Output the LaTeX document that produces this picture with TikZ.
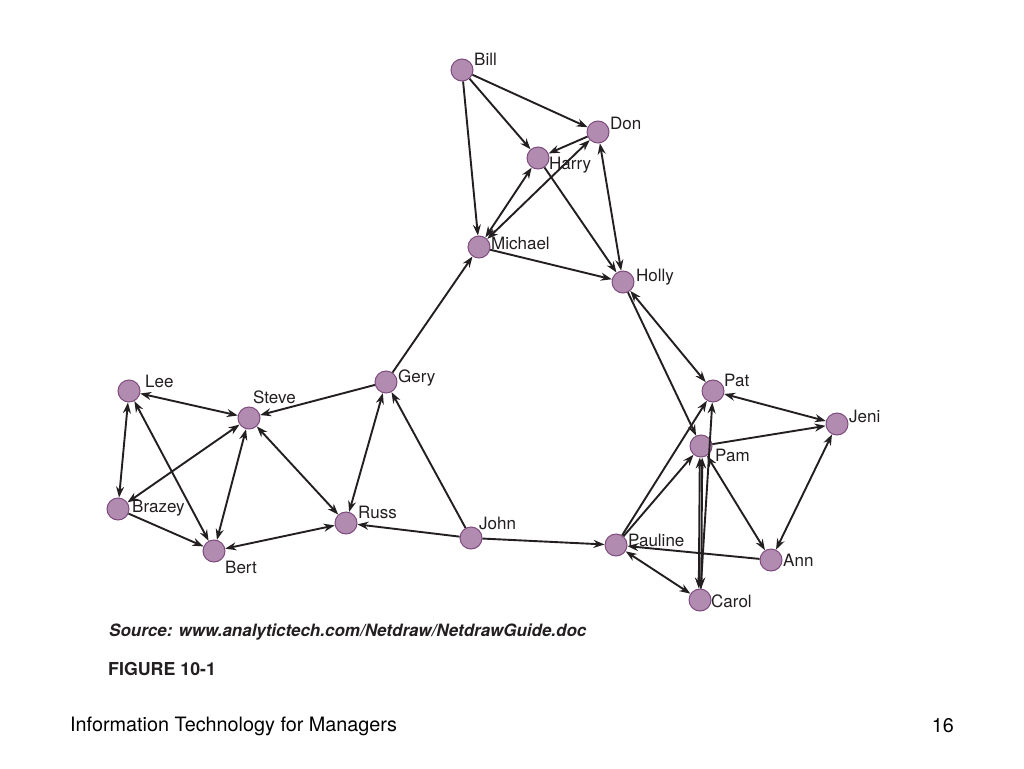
\documentclass[tikz,border=0pt]{standalone}
\usepackage{fontspec}
\setmainfont{TeX Gyre Heros}
\usetikzlibrary{arrows.meta}
\definecolor{nodefill}{RGB}{178,140,176}
\definecolor{nodeline}{RGB}{125,75,125}
\definecolor{edgecol}{RGB}{35,31,32}
\tikzset{
  actor/.style={circle,fill=nodefill,draw=nodeline,line width=1pt,minimum size=22pt,inner sep=0pt},
  lab/.style={font=\fontsize{17}{17}\selectfont,text=edgecol,inner sep=0pt},
  tie/.style={draw=edgecol,line width=1.9pt,-{Stealth[length=11pt,width=8pt]}},
  mutual/.style={draw=edgecol,line width=1.9pt,{Stealth[length=11pt,width=8pt]}-{Stealth[length=11pt,width=8pt]}}
}
\begin{document}
\begin{tikzpicture}[x=1pt,y=-1pt]
\useasboundingbox (0,0) rectangle (1024,768);
\fill[white] (0,0) rectangle (1024,768);
% nodes
\node[actor] (bill) at (462,70) {};
\node[actor] (don) at (598,132) {};
\node[actor] (harry) at (538,158) {};
\node[actor] (michael) at (479,247) {};
\node[actor] (holly) at (623,282) {};
\node[actor] (pat) at (713,391) {};
\node[actor] (jeni) at (837,424) {};
\node[actor] (pam) at (701,446) {};
\node[actor] (pauline) at (616,545) {};
\node[actor] (ann) at (771,560) {};
\node[actor] (carol) at (700,600) {};
\node[actor] (gery) at (386,382) {};
\node[actor] (steve) at (249,418) {};
\node[actor] (lee) at (129,391) {};
\node[actor] (brazey) at (118,509) {};
\node[actor] (bert) at (214,551) {};
\node[actor] (russ) at (346,523) {};
\node[actor] (john) at (471,538) {};
% labels
\node[lab,anchor=west] (lbill) at (474,59) {Bill};
\node[lab,anchor=west] (ldon) at (610,123) {Don};
\node[lab,anchor=west] (lharry) at (549,165) {Harry};
\node[lab,anchor=west] (lmichael) at (491,243) {Michael};
\node[lab,anchor=west] (lholly) at (636,277) {Holly};
\node[lab,anchor=west] (lpat) at (724,380) {Pat};
\node[lab,anchor=west] (ljeni) at (849,416) {Jeni};
\node[lab,anchor=west] (lpam) at (715,455) {Pam};
\node[lab,anchor=west] (lpauline) at (628,540) {Pauline};
\node[lab,anchor=west] (lann) at (783,560) {Ann};
\node[lab,anchor=west] (lcarol) at (711,601) {Carol};
\node[lab,anchor=west] (lgery) at (398,378) {Gery};
\node[lab,anchor=west] (lsteve) at (253,397) {Steve};
\node[lab,anchor=west] (llee) at (145,381) {Lee};
\node[lab,anchor=west] (lbrazey) at (132,508) {Brazey};
\node[lab,anchor=west] (lbert) at (225,567) {Bert};
\node[lab,anchor=west] (lruss) at (358,512) {Russ};
\node[lab,anchor=west] (ljohn) at (479,523) {John};
% edges
\draw[tie] (bill) -- (don);
\draw[tie] (bill) -- (harry);
\draw[tie] (bill) -- (michael);
\draw[tie] (don) -- (harry);
\draw[mutual] (harry) -- (michael);
\draw[mutual] (don) -- (michael);
\draw[tie] (harry) -- (holly);
\draw[mutual] (don) -- (holly);
\draw[tie] (michael) -- (holly);
\draw[tie] (gery) -- (michael);
\draw[mutual] (holly) -- (pat);
\draw[tie] (holly) -- (pam);
\draw[mutual] (pat) -- (jeni);
\draw[tie] (pam) -- (jeni);
\draw[mutual] (pam) -- (ann);
\draw[mutual] (jeni) -- (ann);
\draw[tie] (ann) -- (pauline);
\draw[tie] (pauline) -- (pat);
\draw[tie] (pauline) -- (pam);
\draw[mutual] (pauline) -- (carol);
\draw[mutual] ([xshift=-1.2pt]pam.south) -- ([xshift=-1.2pt]carol.north);
\draw[mutual] ([xshift=1.2pt]pam.south) -- ([xshift=1.2pt]carol.north);
\draw[tie] (carol) -- (pat);
\draw[tie] (john) -- (pauline);
\draw[tie] (john) -- (russ);
\draw[tie] (john) -- (gery);
\draw[tie] (gery) -- (steve);
\draw[mutual] (gery) -- (russ);
\draw[mutual] (steve) -- (lee);
\draw[mutual] (steve) -- (russ);
\draw[mutual] (steve) -- (brazey);
\draw[mutual] (steve) -- (bert);
\draw[mutual] (lee) -- (brazey);
\draw[mutual] (lee) -- (bert);
\draw[tie] (brazey) -- (bert);
\draw[mutual] (russ) -- (bert);
% captions
\node[anchor=west,inner sep=0pt,text=edgecol,font=\fontsize{17}{17}\selectfont\bfseries\itshape] (src) at (109,632) {Source: www.analytictech.com/Netdraw/NetdrawGuide.doc};
\node[anchor=west,inner sep=0pt,text=edgecol,font=\fontsize{17.8}{17.8}\selectfont\bfseries] (fig) at (108,669) {FIGURE 10-1};
\node[anchor=west,inner sep=0pt,font=\fontsize{19.8}{19.8}\selectfont] (footer) at (70,726) {Information Technology for Managers};
\node[anchor=east,inner sep=0pt,font=\fontsize{19.8}{19.8}\selectfont] (page) at (954,726) {16};
\end{tikzpicture}
\end{document}
